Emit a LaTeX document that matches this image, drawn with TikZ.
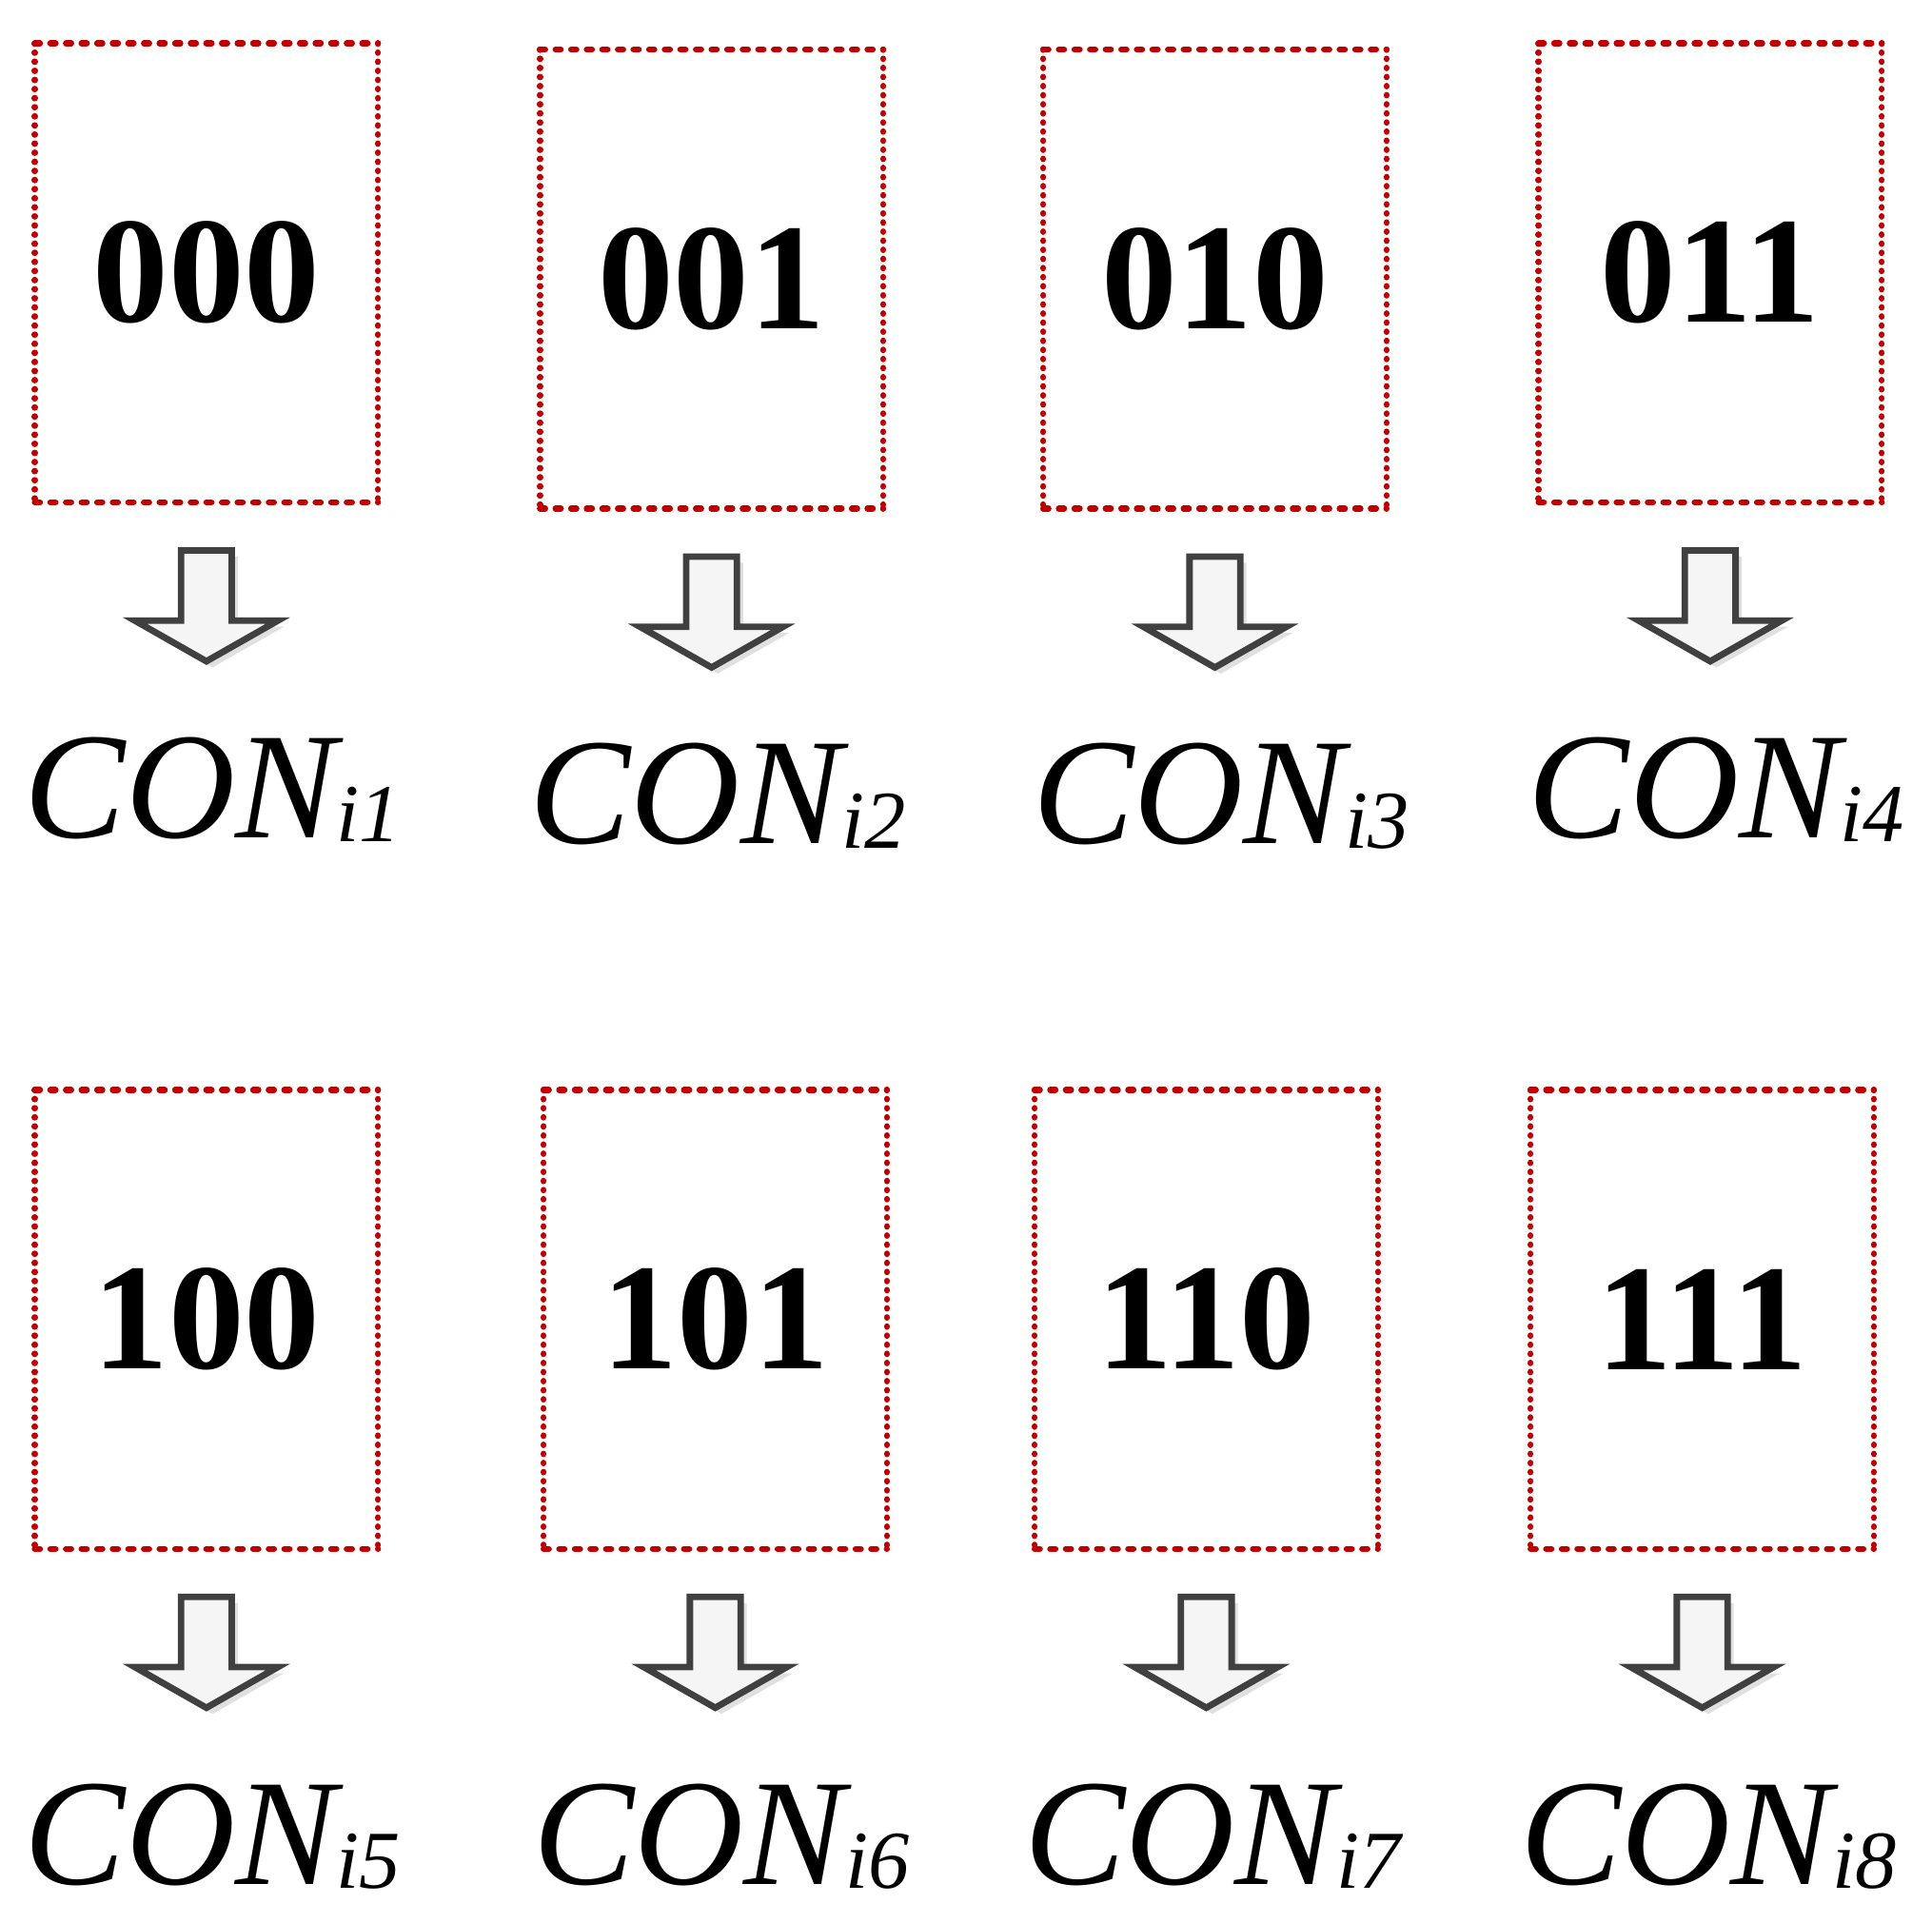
\documentclass[tikz,border=0pt]{standalone}
\usepackage{fontspec}
\setmainfont{Liberation Serif}
\usepackage{tikz}
\usepackage{xcolor}
\usetikzlibrary{positioning}

\definecolor{boxred}{RGB}{192,0,0}
\definecolor{arrowgray}{RGB}{64,64,64}

\tikzset{
codebox/.style={inner sep=0pt,minimum width=2.77cm,minimum height=3.71cm,
  font=\fontsize{35}{35}\selectfont\bfseries},
hdash/.style={draw=boxred,line width=1.4pt,line cap=round,dash pattern=on 1.2pt off 2.4pt},
vdash/.style={draw=boxred,line width=1.4pt,line cap=round,dash pattern=on 0.1pt off 2pt},
blockarrow/.style={draw=arrowgray,line width=1.5pt,fill=black!4},
arrowshadow/.style={fill=black!12},
conlabel/.style={inner sep=0pt,anchor=base,font=\fontsize{35}{35}\selectfont\itshape}
}
\newcommand{\consub}[1]{\raisebox{-1pt}{\fontsize{19}{19}\selectfont #1}}

\begin{document}
\begin{tikzpicture}[x=0.01cm,y=-0.01cm]
\useasboundingbox (0,0) rectangle (1568,1561);
\foreach \i/\bx/\by/\code in {1/167.5/221.5/000,2/577.5/226.5/001,3/986/226.5/010,4/1388/221.5/011,
  5/167.5/1071/100,6/580.5/1071/101,7/979/1071/110,8/1381.5/1071/111}
{
\node[codebox] (box\i) at (\bx,\by) {\code};
\draw[hdash] (box\i.north west) -- (box\i.north east) (box\i.south west) -- (box\i.south east);
\draw[vdash] (box\i.north west) -- (box\i.south west) (box\i.north east) -- (box\i.south east);
\coordinate[below=0.39cm of box\i.south] (top\i);
% arrow with its shadow
\fill[arrowshadow] (top\i) ++(-15.6,5) -- ++(41.2,0) -- ++(0,57) -- ++(37.4,0) -- ++(-58,33)
  -- ++(-58,-33) -- ++(37.4,0) -- cycle;
\draw[blockarrow] (top\i) ++(-20.6,0) -- ++(41.2,0) -- ++(0,57) -- ++(37.4,0) -- ++(-58,33)
  -- ++(-58,-33) -- ++(37.4,0) -- cycle;
\node[conlabel] (con\i) at ([xshift=0.05cm,yshift=-2.33cm]top\i) {CON\consub{i\i}};
}
\end{tikzpicture}
\end{document}
